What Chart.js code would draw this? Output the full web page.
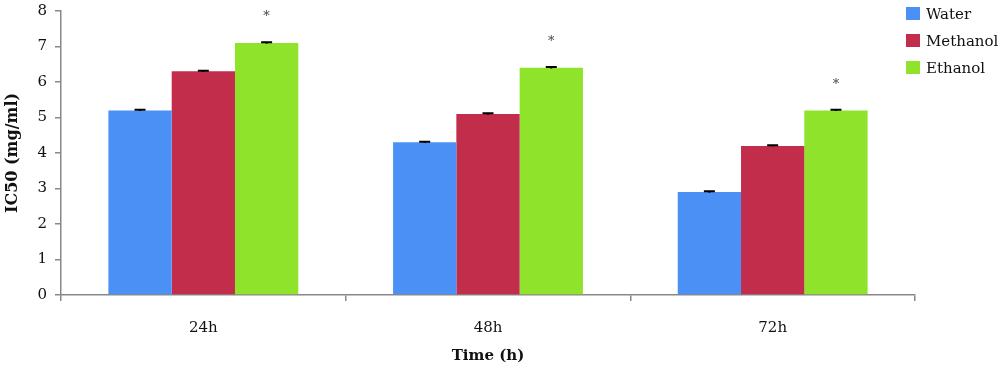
<!DOCTYPE html>
<html>
<head>
<meta charset="utf-8">
<script src="https://cdn.jsdelivr.net/npm/chart.js@4"></script>
<style>
  body{margin:0;background:#fff}
  #wrap{position:relative;width:1000px;height:370px}
  #legend{position:absolute;left:906px;top:0px;font-family:"DejaVu Serif",serif;font-size:15px;color:#111}
  #legend div{height:27px;display:flex;align-items:center}
  #legend span.box{display:inline-block;width:14px;height:13px;margin-right:6px}
</style>
</head>
<body>
<div id="wrap">
  <canvas id="c" width="1000" height="370"></canvas>
  <div id="legend"></div>
</div>
<script>
// データ
const categories = ['24h', '48h', '72h']
const seriesNames = ['Water', 'Methanol', 'Ethanol']
const water = [5.2, 4.3, 2.9]
const methanol = [6.3, 5.1, 4.2]
const ethanol = [7.1, 6.4, 5.2]
const waterErr = [0.02, 0.02, 0.02]
const methanolErr = [0.02, 0.02, 0.02]
const ethanolErr = [0.02, 0.02, 0.02]
const ethanolMarks = ['*', '*', '*']
const colors = ['rgb(74,144,245)', 'rgb(193,45,74)', 'rgb(143,227,43)']

const font = '"DejaVu Serif", serif'

// error bars + asterisks
const extras = {
    id: 'extras',
    afterDatasetsDraw(chart){
        const ctx = chart.ctx
        const y = chart.scales.y
        const errs = [waterErr, methanolErr, ethanolErr]
        chart.data.datasets.forEach((ds, i)=>{
            const meta = chart.getDatasetMeta(i)
            meta.data.forEach((bar, j)=>{
                const v = ds.data[j]
                const top = y.getPixelForValue(v + errs[i][j])
                const bot = y.getPixelForValue(v - errs[i][j])
                ctx.save()
                ctx.strokeStyle = '#000'
                ctx.lineWidth = 2
                ctx.beginPath()
                ctx.moveTo(bar.x, top); ctx.lineTo(bar.x, bot)
                ctx.moveTo(bar.x-5.5, top); ctx.lineTo(bar.x+5.5, top)
                ctx.stroke()
                ctx.restore()
                if(i == 2){
                    ctx.save()
                    ctx.fillStyle = '#444'
                    ctx.font = '13px ' + font
                    ctx.textAlign = 'center'
                    ctx.textBaseline = 'middle'
                    ctx.fillText(ethanolMarks[j], bar.x, y.getPixelForValue(v) - 26)
                    ctx.restore()
                }
            })
        })
    }
}

const datasets = [water, methanol, ethanol].map((d, i)=>({
    label: seriesNames[i],
    data: d,
    backgroundColor: colors[i],
    borderWidth: 0,
    barPercentage: 1,
    categoryPercentage: 0.667
}))

new Chart(document.getElementById('c'), {
    type: 'bar',
    data: {labels: categories, datasets: datasets},
    options: {
        responsive: false,
        animation: false,
        layout: {padding: {left: 0, top: 11, right: 85, bottom: 0}},
        plugins: {legend: {display: false}, tooltip: {enabled: false}},
        scales: {
            x: {
                grid: {offset: true, drawOnChartArea: false, tickLength: 6, color: '#888', lineWidth: 1.5},
                border: {color: '#888', width: 1.5},
                ticks: {font: {family: font, size: 15}, color: '#111', padding: 18},
                title: {display: true, text: 'Time (h)', font: {family: font, size: 15, weight: 'bold'}, color: '#111', padding: {top: 0, bottom: 5}},
                afterFit: s => { s.height = 75 }
            },
            y: {
                min: 0, max: 8,
                grid: {drawOnChartArea: false, tickLength: 6, color: '#888', lineWidth: 1.5},
                border: {color: '#888', width: 1.5},
                ticks: {stepSize: 1, font: {family: font, size: 15}, color: '#111', padding: 8},
                title: {display: true, text: 'IC50 (mg/ml)', font: {family: font, size: 16, weight: 'bold'}, color: '#111', padding: 3},
                afterFit: s => { s.width = 61; s.paddingTop = 0; s.paddingBottom = 0 }
            }
        }
    },
    plugins: [extras]
})

// legend
const lg = document.getElementById('legend')
seriesNames.forEach((n, i)=>{
    const row = document.createElement('div')
    row.innerHTML = `<span class="box" style="background:${colors[i]}"></span>${n}`
    lg.appendChild(row)
})
</script>
</body>
</html>
